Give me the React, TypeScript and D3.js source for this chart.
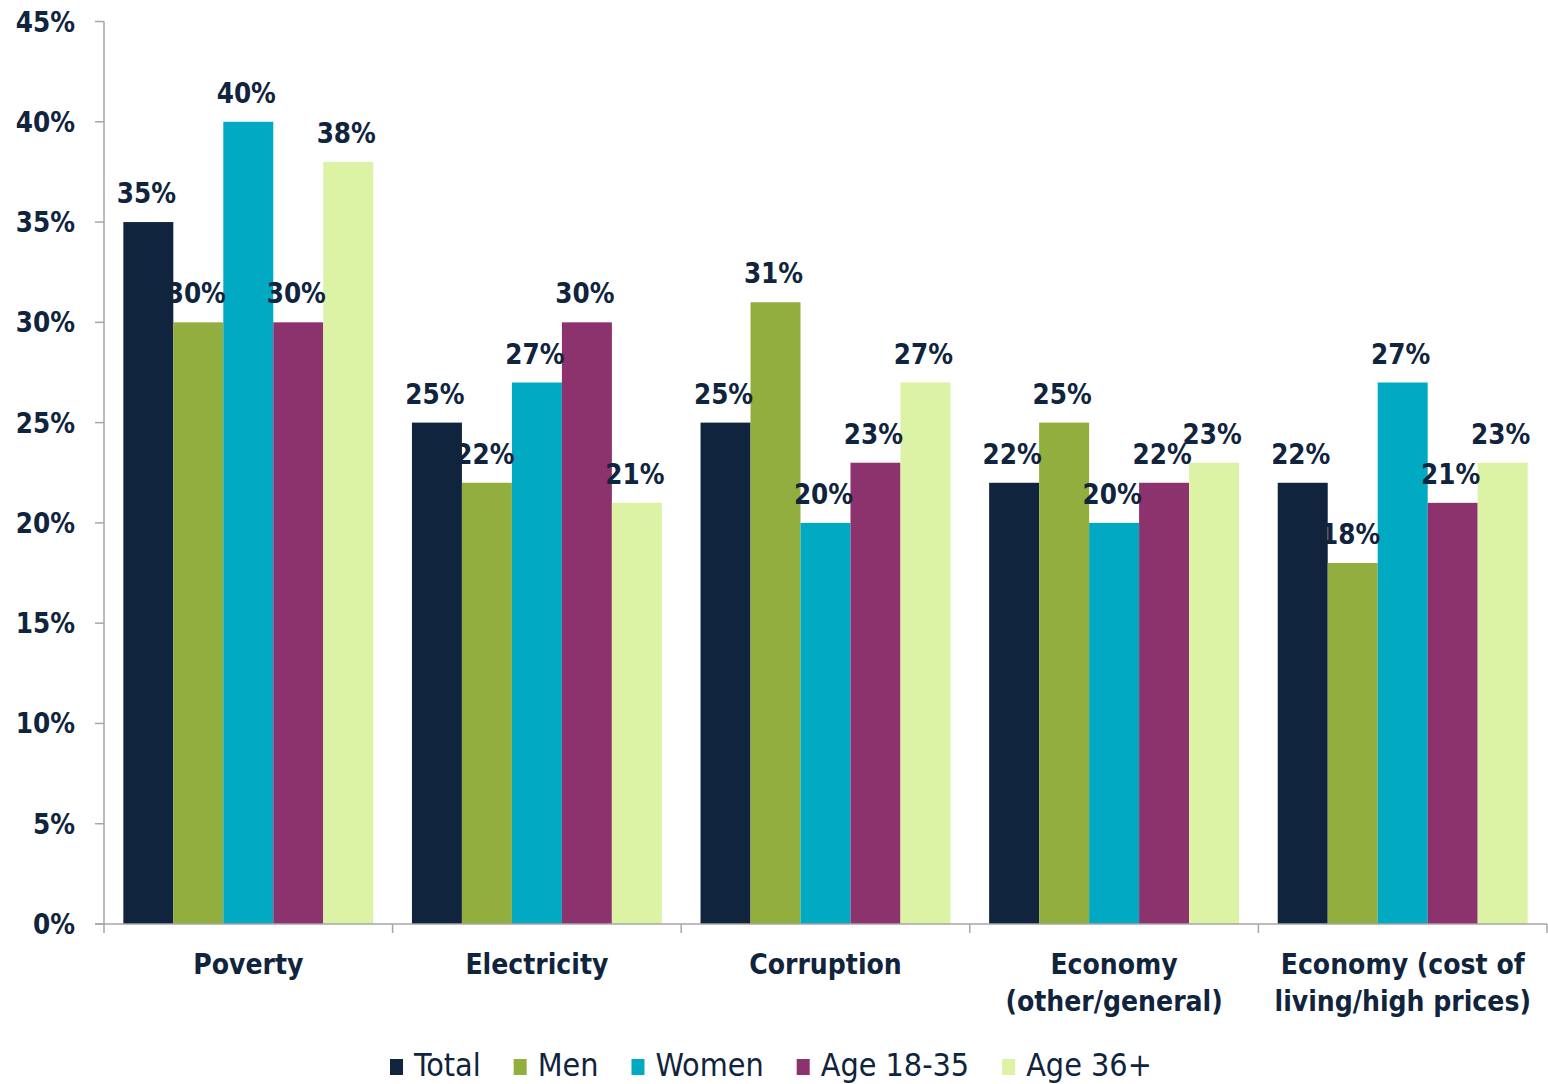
import * as d3 from 'd3';
import { useEffect, useRef } from 'react';

const WIDTH = 1548;
const HEIGHT = 1084;
const FONT = '"DejaVu Sans Condensed", "DejaVu Sans", sans-serif';
const TEXT_COLOR = '#10243e';
const AXIS_COLOR = '#a6a6a6';

const CATEGORIES = [
    ['Poverty'],
    ['Electricity'],
    ['Corruption'],
    ['Economy', '(other/general)'],
    ['Economy (cost of', 'living/high prices)'],
];
const SERIES = ['Total', 'Men', 'Women', 'Age 18-35', 'Age 36+'];
const COLORS = ['#10243e', '#92ae3f', '#02a9c3', '#8c326c', '#dcf2a4'];

// rows follow CATEGORIES, columns follow SERIES
const VALUES = [
    [0.35, 0.3, 0.4, 0.3, 0.38],
    [0.25, 0.22, 0.27, 0.3, 0.21],
    [0.25, 0.31, 0.2, 0.23, 0.27],
    [0.22, 0.25, 0.2, 0.22, 0.23],
    [0.22, 0.18, 0.27, 0.21, 0.23],
];
const Y_TICKS = [0, 0.05, 0.1, 0.15, 0.2, 0.25, 0.3, 0.35, 0.4, 0.45];

const MARGIN = { left: 104, right: 1, top: 21.5, bottom: 160 };

const Chart: React.FC = () => {
    const svgRef = useRef<SVGSVGElement>(null);

    useEffect(() => {
        if (!svgRef.current) return;
        const svg = d3.select(svgRef.current);
        svg.selectAll('*').remove();

        const x0 = MARGIN.left;
        const x1 = WIDTH - MARGIN.right;
        const yBase = HEIGHT - MARGIN.bottom;

        const keys = CATEGORIES.map((c) => c.join(' '));
        const xScale = d3.scaleBand<string>().domain(keys).range([x0, x1]).paddingInner(0.134).paddingOuter(0.067);
        const xInner = d3.scaleBand<string>().domain(SERIES).range([0, xScale.bandwidth()]).padding(0);
        const yScale = d3.scaleLinear().domain([0, 0.45]).range([yBase, MARGIN.top]);

        // bars
        const groups = svg
            .append('g')
            .selectAll('g')
            .data(VALUES)
            .enter()
            .append('g')
            .attr('transform', (_d, i) => `translate(${xScale(keys[i])},0)`);

        groups
            .selectAll('rect')
            .data((d) => d)
            .enter()
            .append('rect')
            .attr('x', (_d, j) => xInner(SERIES[j])!)
            .attr('y', (d) => yScale(d))
            .attr('width', xInner.bandwidth())
            .attr('height', (d) => yBase - yScale(d))
            .attr('fill', (_d, j) => COLORS[j]);

        // value labels
        groups
            .selectAll('text')
            .data((d) => d)
            .enter()
            .append('text')
            .attr('x', (_d, j) => xInner(SERIES[j])! + xInner.bandwidth() / 2 - 2)
            .attr('y', (d) => yScale(d) - 19)
            .attr('text-anchor', 'middle')
            .attr('font-family', FONT)
            .attr('font-weight', 'bold')
            .attr('font-size', 27.5)
            .attr('fill', TEXT_COLOR)
            .text((d) => d3.format('.0%')(d));

        // y axis
        svg.append('line')
            .attr('x1', x0)
            .attr('x2', x0)
            .attr('y1', yScale(0.45))
            .attr('y2', yBase)
            .attr('stroke', AXIS_COLOR)
            .attr('stroke-width', 1.5);

        const yTicks = svg.append('g').selectAll('g').data(Y_TICKS).enter().append('g');
        yTicks
            .append('line')
            .attr('x1', x0 - 9)
            .attr('x2', x0)
            .attr('y1', (d) => yScale(d))
            .attr('y2', (d) => yScale(d))
            .attr('stroke', AXIS_COLOR)
            .attr('stroke-width', 1.5);
        yTicks
            .append('text')
            .attr('x', 75)
            .attr('y', (d) => yScale(d) + 10)
            .attr('text-anchor', 'end')
            .attr('font-family', FONT)
            .attr('font-weight', 'bold')
            .attr('font-size', 27.5)
            .attr('fill', TEXT_COLOR)
            .text((d) => d3.format('.0%')(d));

        // x axis
        svg.append('line')
            .attr('x1', x0 - 9)
            .attr('x2', x1)
            .attr('y1', yBase)
            .attr('y2', yBase)
            .attr('stroke', AXIS_COLOR)
            .attr('stroke-width', 1.5);

        const step = xScale.step();
        const bounds = d3.range(CATEGORIES.length + 1).map((i) => x0 + i * step);
        svg.append('g')
            .selectAll('line')
            .data(bounds)
            .enter()
            .append('line')
            .attr('x1', (d) => d)
            .attr('x2', (d) => d)
            .attr('y1', yBase)
            .attr('y2', yBase + 9)
            .attr('stroke', AXIS_COLOR)
            .attr('stroke-width', 1.5);

        // category labels
        const catText = svg
            .append('g')
            .selectAll('text')
            .data(CATEGORIES)
            .enter()
            .append('text')
            .attr('x', (_d, i) => xScale(keys[i])! + xScale.bandwidth() / 2)
            .attr('y', yBase + 50)
            .attr('text-anchor', 'middle')
            .attr('font-family', FONT)
            .attr('font-weight', 'bold')
            .attr('font-size', 28)
            .attr('fill', TEXT_COLOR);
        catText
            .selectAll('tspan')
            .data((d) => d)
            .enter()
            .append('tspan')
            .attr('x', function () {
                return (this.parentNode as SVGTextElement).getAttribute('x');
            })
            .attr('dy', (_d, i) => (i === 0 ? 0 : 37))
            .text((d) => d);

        // legend
        const legend = svg.append('g');
        let lx = 390;
        SERIES.forEach((name, i) => {
            legend
                .append('rect')
                .attr('x', lx)
                .attr('y', 1059)
                .attr('width', 13)
                .attr('height', 16)
                .attr('fill', COLORS[i]);
            const t = legend
                .append('text')
                .attr('x', lx + 24)
                .attr('y', 1076)
                .attr('font-family', FONT)
                .attr('font-size', 32)
                .attr('fill', TEXT_COLOR)
                .text(name);
            const w = (t.node() as SVGTextElement).getComputedTextLength();
            lx = lx + 24 + w + 33;
        });
    }, []);

    return (
        <svg
            ref={svgRef}
            width={WIDTH}
            height={HEIGHT}
            style={{ position: 'absolute', left: 0, top: 0, background: '#ffffff' }}
        ></svg>
    );
};

export default function App() {
    return <Chart />;
}
